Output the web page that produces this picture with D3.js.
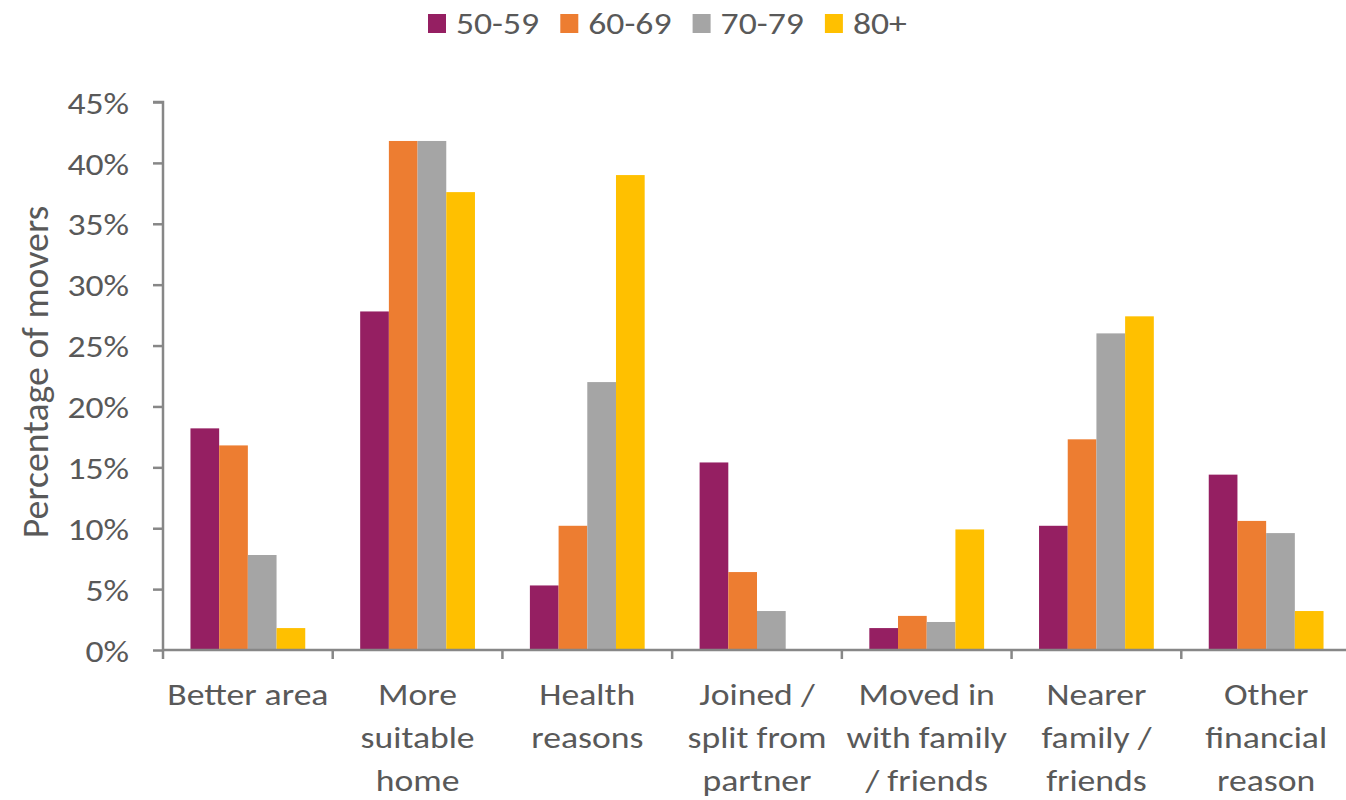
<!DOCTYPE html>
<html>
<head>
<meta charset="utf-8">
<script src="https://cdnjs.cloudflare.com/ajax/libs/d3/7.8.5/d3.min.js"></script>
<style>
  html, body { margin: 0; padding: 0; background: #ffffff; }
  svg { display: block; }
  text { font-family: Carlito, Calibri, Lato, "Open Sans", sans-serif; fill: #595959; }
</style>
</head>
<body>
<svg id="chart" width="1346" height="800"></svg>
<script>
// Reasons for moving, split into the lines used for the axis labels
const categoryLines = [
  ["Better area"],
  ["More", "suitable", "home"],
  ["Health", "reasons"],
  ["Joined /", "split from", "partner"],
  ["Moved in", "with family", "/ friends"],
  ["Nearer", "family /", "friends"],
  ["Other", "financial", "reason"]
];
const categories = categoryLines.map(l => l.join(" "));

// Age groups
const series = ["50-59", "60-69", "70-79", "80+"];
const colors = ["#951F62", "#ED7D31", "#A5A5A5", "#FFC000"];

// Share of movers (%) per reason, one array per age group
const values5059 = [18.2, 27.8, 5.3, 15.4, 1.8, 10.2, 14.4];
const values6069 = [16.8, 41.8, 10.2, 6.4, 2.8, 17.3, 10.6];
const values7079 = [7.8, 41.8, 22.0, 3.2, 2.3, 26.0, 9.6];
const values80 = [1.8, 37.6, 39.0, 0.0, 9.9, 27.4, 3.2];
const seriesValues = [values5059, values6069, values7079, values80];

const yTicks = [0, 5, 10, 15, 20, 25, 30, 35, 40, 45];
const yTitle = "Percentage of movers";

const svg = d3.select("#chart");
const plotLeft = 163, plotRight = 1351, plotTop = 102, plotBottom = 650;
const axisColor = "#878787";
const fontSize = 31;
const stretch = 1.15; // horizontal glyph stretch for the label font

const x0 = d3.scaleBand().domain(categories).range([plotLeft, plotRight]).paddingInner(0).paddingOuter(0);
const x1 = d3.scaleBand().domain(series).range([0, x0.bandwidth()]).paddingInner(0).paddingOuter(0.957);
const y = d3.scaleLinear().domain([0, 45]).range([plotBottom, plotTop]);
const color = d3.scaleOrdinal().domain(series).range(colors);

// Bars
const groups = svg.append("g").selectAll("g")
  .data(categories)
  .join("g")
  .attr("transform", d => `translate(${x0(d)},0)`);

groups.selectAll("rect")
  .data((c, i) => series.map((s, j) => ({ s, v: seriesValues[j][i] })))
  .join("rect")
  .attr("x", d => x1(d.s))
  .attr("width", x1.bandwidth())
  .attr("y", d => y(d.v))
  .attr("height", d => y(0) - y(d.v))
  .attr("fill", d => color(d.s));

// Y axis
const yAxis = svg.append("g")
  .attr("transform", `translate(${plotLeft},0)`)
  .call(d3.axisLeft(y).tickValues(yTicks).tickSize(10).tickPadding(24).tickFormat(d => d + "%"));
yAxis.select(".domain").attr("stroke", axisColor).attr("stroke-width", 2.5).attr("d", `M-10,${plotTop}H0V${plotBottom}`);
yAxis.selectAll(".tick line").attr("stroke", axisColor).attr("stroke-width", 2.5);
yAxis.selectAll(".tick text")
  .attr("x", 0)
  .attr("transform", `translate(-34,0) scale(${stretch},1)`)
  .attr("font-size", fontSize).attr("fill", "#595959").attr("dy", "0.36em")
  .style("font-family", "Carlito, Calibri, Lato, sans-serif");

// X axis: baseline with ticks on category boundaries
const xAxis = svg.append("g").attr("transform", `translate(0,${plotBottom})`);
xAxis.append("line")
  .attr("x1", plotLeft).attr("x2", plotRight)
  .attr("stroke", axisColor).attr("stroke-width", 2.5);
const boundaries = categories.map(c => x0(c)).concat([plotRight]);
xAxis.selectAll("line.tick")
  .data(boundaries)
  .join("line")
  .attr("class", "tick")
  .attr("x1", d => d).attr("x2", d => d)
  .attr("y1", 0).attr("y2", 9)
  .attr("stroke", axisColor).attr("stroke-width", 2.5);

// Category labels
const labels = svg.append("g").selectAll("text")
  .data(categoryLines)
  .join("text")
  .attr("text-anchor", "middle")
  .attr("font-size", fontSize)
  .attr("transform", (d, i) => `translate(${x0(categories[i]) + x0.bandwidth() / 2},705) scale(${stretch},1)`);
labels.selectAll("tspan")
  .data(d => d)
  .join("tspan")
  .attr("x", 0)
  .attr("y", (d, i) => i * 43)
  .text(d => d);

// Y axis title
svg.append("text")
  .attr("transform", `translate(48,${(plotTop + plotBottom) / 2 - 4}) rotate(-90) scale(1.05,1)`)
  .attr("text-anchor", "middle")
  .attr("font-size", 36)
  .text(yTitle);

// Legend
const legend = svg.append("g").selectAll("g")
  .data(series)
  .join("g")
  .attr("transform", (d, i) => `translate(${428 + i * 132.3},0)`);
legend.append("rect")
  .attr("x", 0).attr("y", 14)
  .attr("width", 18).attr("height", 19)
  .attr("fill", d => color(d));
legend.append("text")
  .attr("transform", `translate(28,34) scale(${stretch},1)`)
  .attr("font-size", fontSize)
  .text(d => d);
</script>
</body>
</html>
